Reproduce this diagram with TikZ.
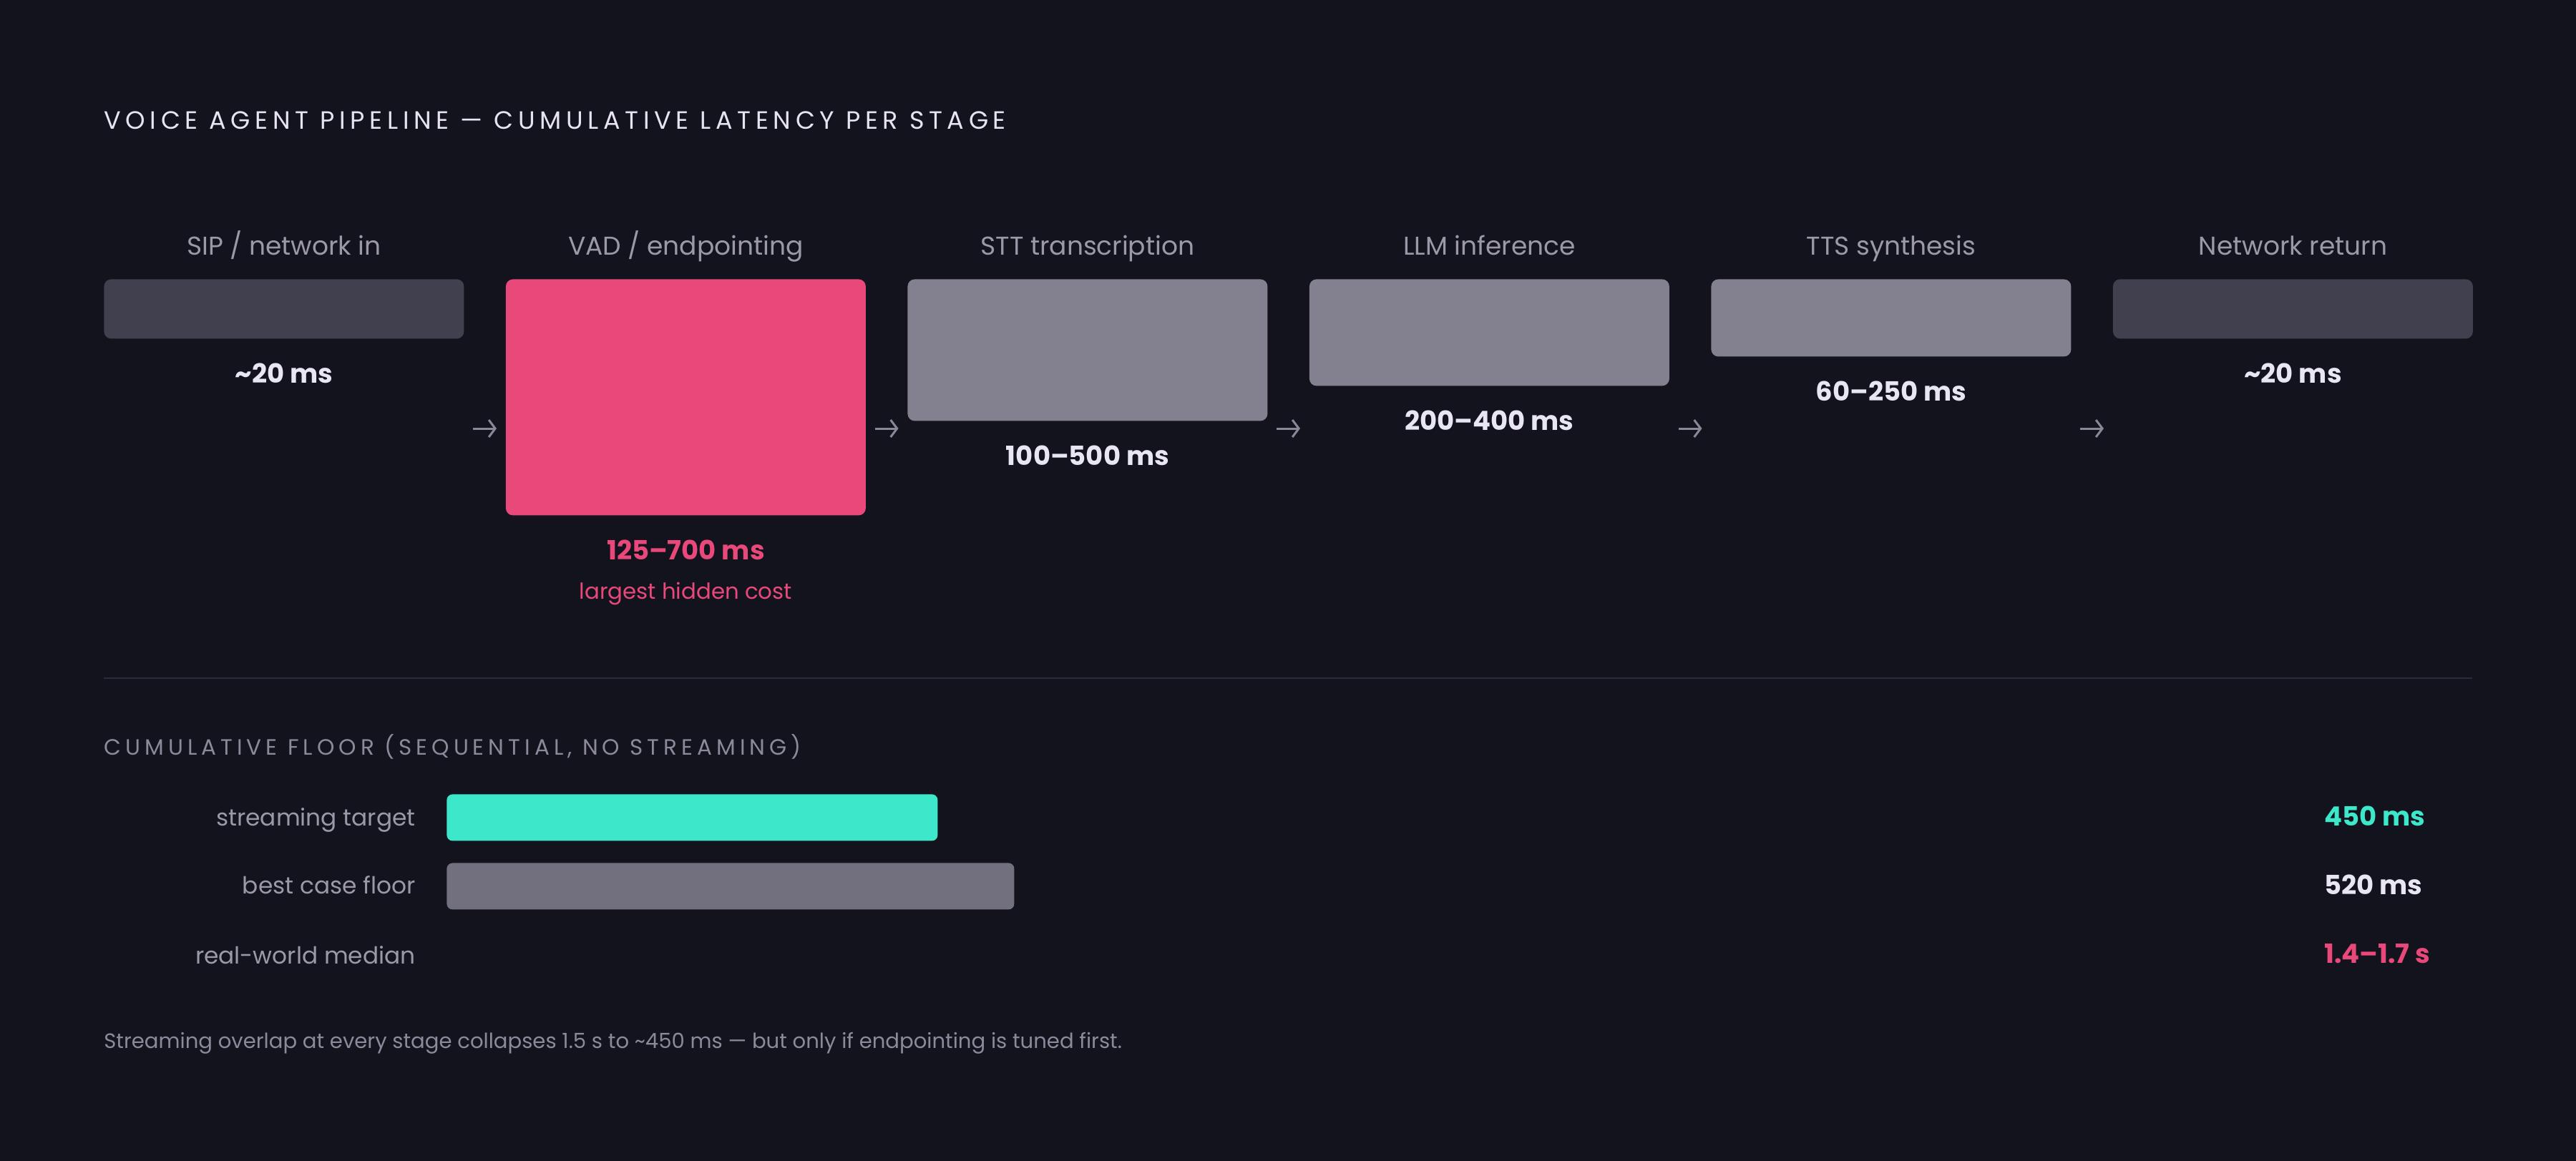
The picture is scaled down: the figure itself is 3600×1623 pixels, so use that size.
\documentclass[tikz,border=0pt]{standalone}
\usepackage{fontspec}
\setmainfont{Poppins}
\usetikzlibrary{arrows.meta}
\definecolor{bg}{HTML}{13131E}
\definecolor{pinkc}{HTML}{E8497A}
\definecolor{midgray}{HTML}{83808F}
\definecolor{darkbox}{HTML}{41404E}
\definecolor{tealc}{HTML}{3CE8C9}
\definecolor{floorbar}{HTML}{72707E}
\definecolor{titlec}{HTML}{E6E4F0}
\definecolor{labelc}{HTML}{9B99A8}
\definecolor{mutedc}{HTML}{8C8A9A}
\definecolor{valc}{HTML}{E8E6F2}
\definecolor{rulec}{HTML}{2B2A38}
\definecolor{arrowc}{HTML}{8A8898}
\tikzset{
  stagebox/.style={rectangle, rounded corners=5pt, inner sep=0pt, minimum width=251.5pt, anchor=north west, draw=none},
  stagelabel/.style={anchor=base, inner sep=0pt, text=labelc, font=\fontsize{18}{22}\selectfont},
  vallabel/.style={anchor=base, inner sep=0pt, text=valc, font=\fontsize{18.5}{22}\selectfont\bfseries},
  flow/.style={draw=arrowc, line width=1.5pt, -{Straight Barb[length=4.5pt,width=12pt,line width=1.5pt]}},
  barlabel/.style={anchor=base east, inner sep=0pt, text=labelc, font=\fontsize{16.4}{20}\selectfont},
  barval/.style={anchor=base west, inner sep=0pt, font=\fontsize{18.5}{22}\selectfont\bfseries},
  bar/.style={rectangle, rounded corners=4pt, inner sep=0pt, anchor=north west, minimum height=32.5pt},
}
\begin{document}
\begin{tikzpicture}[x=0.5pt,y=-0.5pt]
\fill[bg] (0,0) rectangle (3600,1623);
\useasboundingbox (0,0) rectangle (3600,1623);

\node[anchor=base west, inner sep=0pt, text=titlec, font=\fontsize{17.5}{21}\selectfont\addfontfeatures{LetterSpace=19}] (title) at (145,180) {VOICE AGENT PIPELINE — CUMULATIVE LATENCY PER STAGE};

% stage boxes
\node[stagebox, fill=darkbox, minimum height=41.5pt] (b1) at (145,390) {};
\node[stagebox, fill=pinkc, minimum height=165pt] (b2) at (706.5,390) {};
\node[stagebox, fill=midgray, minimum height=99pt] (b3) at (1268,390) {};
\node[stagebox, fill=midgray, minimum height=74.5pt] (b4) at (1829.5,390) {};
\node[stagebox, fill=midgray, minimum height=54pt] (b5) at (2391,390) {};
\node[stagebox, fill=darkbox, minimum height=41.5pt] (b6) at (2952.5,390) {};

% stage labels
\node[stagelabel] (l1) at (b1.north |- 0,356) {SIP / network in};
\node[stagelabel] (l2) at (b2.north |- 0,356) {VAD / endpointing};
\node[stagelabel] (l3) at (b3.north |- 0,356) {STT transcription};
\node[stagelabel] (l4) at (b4.north |- 0,356) {LLM inference};
\node[stagelabel] (l5) at (b5.north |- 0,356) {TTS synthesis};
\node[stagelabel] (l6) at (b6.north |- 0,356) {Network return};

% values
\node[vallabel] (v1) at ([yshift=-31pt]b1.south) {\textasciitilde 20 ms};
\node[vallabel, text=pinkc] (v2) at ([yshift=-31pt]b2.south) {125–700 ms};
\node[vallabel] (v3) at ([yshift=-31pt]b3.south) {100–500 ms};
\node[vallabel] (v4) at ([yshift=-31pt]b4.south) {200–400 ms};
\node[vallabel] (v5) at ([yshift=-31pt]b5.south) {60–250 ms};
\node[vallabel] (v6) at ([yshift=-31pt]b6.south) {\textasciitilde 20 ms};
\node[anchor=base, inner sep=0pt, text=pinkc, font=\fontsize{15.4}{19}\selectfont] (note) at (b2.north |- 0,837) {largest hidden cost};

% arrows
\foreach \i/\x in {1/677,2/1238.5,3/1800,4/2361.5,5/2923}{
  \coordinate (as\i) at (\x-16,599);
  \coordinate (ae\i) at (\x+17,599);
  \draw[flow] (as\i) -- (ae\i);
}

% divider
\coordinate (d1) at (145,948);
\coordinate (d2) at (3455,948);
\draw[rulec, line width=1pt] (d1) -- (d2);

\node[anchor=base west, inner sep=0pt, text=mutedc, font=\fontsize{15.5}{19}\selectfont\addfontfeatures{LetterSpace=19.5}] (sub) at (145,1055) {CUMULATIVE FLOOR (SEQUENTIAL, NO STREAMING)};

% bars
\node[bar, fill=tealc, minimum width=343pt] (bar1) at (624,1110) {};
\node[bar, fill=floorbar, minimum width=396.5pt] (bar2) at (624,1206) {};

\node[barlabel] (bl1) at (581,1154) {streaming target};
\node[barlabel] (bl2) at (581,1249) {best case floor};
\node[barlabel] (bl3) at (581,1347) {real-world median};

\node[barval, text=tealc] (bv1) at (3248,1154) {450 ms};
\node[barval, text=valc] (bv2) at (3248,1250) {520 ms};
\node[barval, text=pinkc] (bv3) at (3248,1346) {1.4–1.7 s};

\node[anchor=base west, inner sep=0pt, text=mutedc, font=\fontsize{14.55}{18}\selectfont] (foot) at (145,1465) {Streaming overlap at every stage collapses 1.5 s to \textasciitilde 450 ms — but only if endpointing is tuned first.};
\end{tikzpicture}
\end{document}
